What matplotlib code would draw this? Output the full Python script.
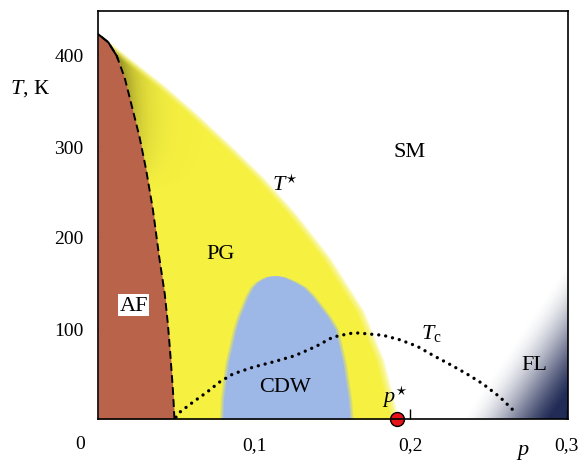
import numpy as np
import matplotlib
matplotlib.use("Agg")
import matplotlib.pyplot as plt

plt.rcParams['font.family'] = ['Liberation Serif', 'DejaVu Serif']
plt.rcParams['mathtext.fontset'] = 'custom'
plt.rcParams['mathtext.rm'] = 'Liberation Serif'
plt.rcParams['mathtext.it'] = 'Liberation Serif:italic'

# ---- data ----
# antiferromagnetic boundary T_N(p)
p_af = [0.0, 0.0066, 0.012, 0.0173, 0.0216, 0.0269, 0.0312, 0.0355, 0.0397,
        0.043, 0.0451, 0.0468, 0.0483, 0.049]
T_af = [423, 414, 399, 374, 344, 308, 271, 227, 172, 135, 99, 62, 25, 0]
# pseudogap line T*(p)
p_star = [0.0, 0.0194, 0.0408, 0.0622, 0.0835, 0.105, 0.1263, 0.1476, 0.169,
          0.182, 0.1885, 0.1915]
T_star = [423, 396, 367, 335, 301, 265, 224, 177, 119, 64, 20, 0]
# CDW dome: left / right edges vs temperature
T_cdw = [0, 22, 62, 99, 113, 135.5, 145, 150.5, 154, 156.5, 157.5]
pL_cdw = [0.0800, 0.0805, 0.0835, 0.0885, 0.091, 0.0964, 0.0995, 0.1026, 0.106, 0.109, 0.1135]
pR_cdw = [0.1615, 0.1605, 0.157, 0.152, 0.147, 0.137, 0.1315, 0.126, 0.1215, 0.118, 0.1135]
# superconducting dome Tc(p)
p_tc = [0.050, 0.0526, 0.061, 0.070, 0.078, 0.0865, 0.0995, 0.112, 0.125, 0.1295,
        0.140, 0.1506, 0.1615, 0.1667, 0.1827, 0.1936, 0.2045, 0.2147, 0.2256,
        0.2365, 0.2468, 0.2577, 0.2686]
T_tc = [2, 7.7, 18.7, 29.7, 40.7, 49.5, 57, 62.6, 69, 72, 80, 90, 94, 94.5, 92,
        87, 80, 70, 60, 49.5, 38.5, 24, 5.5]
# critical point
p_crit = [0.1917]
T_crit = [0]

x_ticks = [0.1, 0.2, 0.3]
x_ticklabels = ['0,1', '0,2', '0,3']
y_ticks = [100, 200, 300, 400]
y_ticklabels = ['100', '200', '300', '400']

brown = '#B9634B'
yellow = '#F6F140'
blue = '#9DB7E6'
navy = np.array([26, 36, 80]) / 255.0
olive = np.array([85, 80, 20]) / 255.0

fig = plt.figure(figsize=(5.82, 4.64), dpi=100)
ax = fig.add_axes([98 / 582, 44 / 464, 470 / 582, 408 / 464])
xmax = 470 / 1560
ymax = 408 / 0.91
ax.set_xlim(0, xmax)
ax.set_ylim(0, ymax)

Tg = np.linspace(0, 423, 600)
paf_g = np.interp(Tg, T_af[::-1], p_af[::-1])
pst_g = np.interp(Tg, T_star[::-1], p_star[::-1])

# pseudogap (yellow) with soft outer edge
for k in range(8):
    ax.fill_betweenx(Tg, paf_g, pst_g - 0.0035 + k * 0.0007, color=yellow,
                     alpha=0.22, lw=0, zorder=1)
ax.fill_betweenx(Tg, paf_g, pst_g - 0.0035, color=yellow, lw=0, zorder=1)

# olive shading along AF boundary near the top
pp = np.linspace(0, 0.12, 300)
TT = np.linspace(200, 425, 300)
P, TM = np.meshgrid(pp, TT)
paf_m = np.interp(TM, T_af[::-1], p_af[::-1])
pst_m = np.interp(TM, T_star[::-1], p_star[::-1])
a = np.clip((TM - 250) / 170, 0, 1) ** 1.2 * np.exp(-(P - paf_m) / 0.010) * 0.75
a = a * (P > paf_m) * np.clip((pst_m - P) / 0.006, 0, 1)
img = np.zeros(P.shape + (4,))
img[..., :3] = olive
img[..., 3] = a
ax.imshow(img, extent=[0, 0.12, 200, 425], origin='lower', aspect='auto',
          interpolation='bilinear', zorder=1.5)

# AF region
ax.fill_betweenx(Tg, 0, paf_g, color=brown, lw=0, zorder=2)

# CDW dome
Tc_g = np.linspace(0, max(T_cdw), 300)
pL_g = np.interp(Tc_g, T_cdw, pL_cdw)
pR_g = np.interp(Tc_g, T_cdw, pR_cdw)
for k in range(4):
    ax.fill_betweenx(Tc_g, pL_g - k * 0.0007, pR_g + k * 0.0007, color=blue,
                     alpha=0.3, lw=0, zorder=2)
ax.fill_betweenx(Tc_g, pL_g, pR_g, color=blue, lw=0, zorder=2)

# FL gradient in lower-right corner
pp2 = np.linspace(0.2, xmax, 240)
TT2 = np.linspace(0, 220, 240)
P2, T2 = np.meshgrid(pp2, TT2)
s = np.clip((P2 - 0.232) / 0.069 - T2 / 175, 0, 1)
s = s * s * (3 - 2 * s)
img2 = np.zeros(P2.shape + (4,))
img2[..., :3] = navy
img2[..., 3] = np.clip(s * 1.05, 0, 0.97)
ax.imshow(img2, extent=[0.2, xmax, 0, 220], origin='lower', aspect='auto',
          interpolation='bilinear', zorder=2)

# lines
ax.plot(paf_g, Tg, color='k', ls=(0, (4, 2.2)), lw=1.4, zorder=4)
top = Tg > 395
ax.plot(paf_g[top], Tg[top], color='k', lw=1.4, zorder=4)
ax.plot(p_tc, T_tc, color='k', ls=(0, (0.01, 2.1)), lw=2.4,
        dash_capstyle='round', zorder=4)
ax.plot(p_crit, T_crit, 'o', color='#E8121B', mec='k', mew=1.0, ms=10,
        clip_on=False, zorder=6)

# labels
fs = 16
ax.text(0.200, 294, 'SM', fontsize=fs, ha='center', va='center', zorder=5)
ax.text(0.120, 258, r'$T^{\star}$', fontsize=fs, ha='center', va='center', zorder=5)
ax.text(0.0788, 182, 'PG', fontsize=fs, ha='center', va='center', zorder=5)
ax.text(0.023, 125, 'AF', fontsize=fs, ha='center', va='center', zorder=5,
        bbox=dict(facecolor='white', edgecolor='none', pad=1.0))
ax.text(0.120, 36, 'CDW', fontsize=fs, ha='center', va='center', zorder=5)
ax.text(0.214, 95, r'$T_{\rm c}$', fontsize=fs, ha='center', va='center', zorder=5)
ax.text(0.280, 60, 'FL', fontsize=fs, ha='center', va='center', zorder=5)
ax.text(0.190, 25, r'$p^{\star}$', fontsize=fs, ha='center', va='center', zorder=5)

# axes styling
for sp in ax.spines.values():
    sp.set_linewidth(1.2)
    sp.set_zorder(7)
ax.set_xticks(x_ticks)
ax.set_xticklabels(x_ticklabels)
ax.set_yticks(y_ticks)
ax.set_yticklabels(y_ticklabels)
ax.tick_params(axis='both', direction='in', length=7.5, width=1.0, labelsize=14)
ax.tick_params(axis='x', pad=12)
ax.tick_params(axis='y', pad=10.5)

fig.text(80 / 582, 1 - 445 / 464, '0', fontsize=14, ha='center', va='center')
fig.text(30 / 582, 1 - 89 / 464, r'$T$, К', fontsize=fs, ha='center', va='center')
fig.text(523 / 582, 1 - 453 / 464, r'$p$', fontsize=fs, ha='center', va='center')

fig.savefig('out.png', dpi=100)
